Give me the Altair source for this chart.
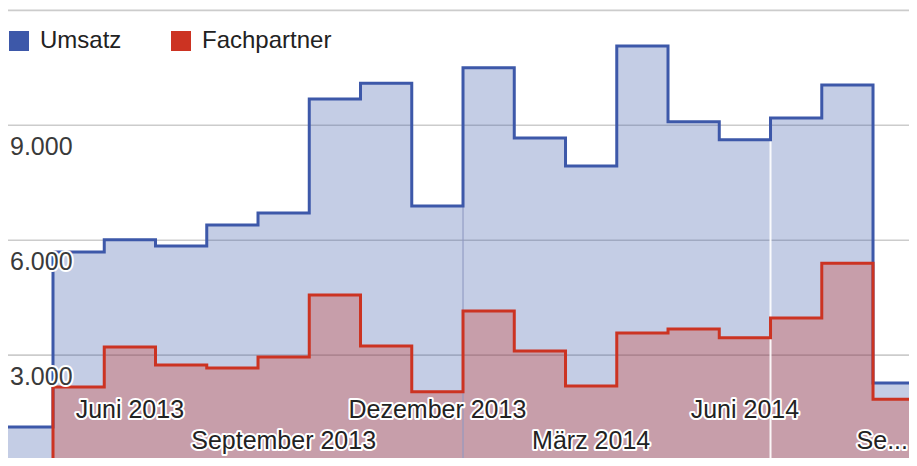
import altair as alt
import pandas as pd

FONT = "Liberation Sans, Arial, Helvetica, sans-serif"
BLUE = "#3D58A9"
RED = "#CC3322"

months = ["April 2013", "Mai 2013", "Juni 2013", "Juli 2013", "August 2013",
          "September 2013", "Oktober 2013", "November 2013", "Dezember 2013",
          "Januar 2014", "Februar 2014", "März 2014", "April 2014", "Mai 2014",
          "Juni 2014", "Juli 2014", "August 2014", "September 2014"]
umsatz = [1120, 5690, 6010, 5850, 6400, 6710, 9690, 10100, 6890, 10500,
          8670, 7940, 11070, 9090, 8620, 9190, 10050, 2270]
fachpartner = [260, 2170, 3210, 2740, 2660, 2950, 4570, 3240, 2040, 4150,
               3110, 2190, 3580, 3680, 3450, 3970, 5400, 1850]
series_names = ["Umsatz", "Fachpartner"]

grid_values = [3000, 6000, 9000, 12000]
y_label_values = [9000, 6000, 3000]
y_label_texts = ["9.000", "6.000", "3.000"]

x_label_months = [2, 5, 8, 11, 14, 17]
x_label_texts = ["Juni 2013", "September 2013", "Dezember 2013", "März 2014", "Juni 2014", "Se..."]
x_label_rows = [0, 1, 0, 1, 0, 1]

# faint vertical artefact lines visible in the screenshot
marker_idx = [9, 15]
marker_top = [6890, 8620]
marker_color = ["#8E98C2", "#FFFFFF"]

rows = []
for name, vals in (("Umsatz", umsatz), ("Fachpartner", fachpartner)):
    for i, v in enumerate(vals):
        rows.append({"series": name, "idx": i, "month": months[i], "value": v})
    # closing point so the last step keeps its full width
    rows.append({"series": name, "idx": len(vals), "month": "", "value": vals[-1]})
df = pd.DataFrame(rows)

grid_df = pd.DataFrame({"value": grid_values})
ylab_df = pd.DataFrame({"value": y_label_values, "label": y_label_texts})
xlab_df = pd.DataFrame({"pos": [m + 0.5 for m in x_label_months],
                        "label": x_label_texts, "row": x_label_rows,
                        "n": list(range(len(x_label_texts)))})
mark_df = pd.DataFrame({"idx": marker_idx, "top": marker_top, "color": marker_color,
                        "bottom": [0, 0]})

W, H = 901, 450
xs = alt.Scale(domain=[0.122, 17.702], nice=False, zero=False)
ys = alt.Scale(domain=[313, 12063], nice=False, zero=False)
color_scale = alt.Scale(domain=series_names, range=[BLUE, RED])
legend = alt.Legend(title=None, orient="none", legendX=-1, legendY=21,
                    direction="horizontal", symbolType="square", symbolSize=400,
                    symbolStrokeWidth=0, symbolOpacity=1, labelFontSize=24,
                    labelFont=FONT, labelColor="#222222", labelOffset=9,
                    columnPadding=47, padding=0)

X = alt.X("idx:Q", scale=xs, axis=None)
Y = alt.Y("value:Q", scale=ys, axis=None)

base = alt.Chart(df)

grid = alt.Chart(grid_df).mark_rule(color="#CCCCCC", strokeWidth=1.6).encode(
    y=alt.Y("value:Q", scale=ys, axis=None))

areas = [
    base.transform_filter(alt.datum.series == s).mark_area(
        interpolate="step-after", fillOpacity=0.3, clip=True).encode(
        x=X, y=Y, color=alt.Color("series:N", scale=color_scale, legend=legend))
    for s in series_names
]

markers = [
    alt.Chart(mark_df).transform_filter(alt.datum.idx == m).mark_rule(
        strokeWidth=2 if c == "#FFFFFF" else 1.2, color=c, opacity=0.9).encode(
        x=alt.X("idx:Q", scale=xs, axis=None),
        y=alt.Y("top:Q", scale=ys, axis=None), y2="bottom:Q")
    for m, c in zip(marker_idx, marker_color)
]

lines = [
    base.transform_filter(alt.datum.series == s).mark_line(
        interpolate="step-after", strokeWidth=3, clip=True, color=c).encode(x=X, y=Y)
    for s, c in zip(series_names, [BLUE, RED])
]

ylab_common = dict(align="left", baseline="alphabetic", dy=30, fontSize=25, font=FONT)
ylab_halo = alt.Chart(ylab_df).mark_text(
    stroke="white", strokeWidth=4, strokeJoin="round", fill="white", **ylab_common).encode(
    x=alt.value(2), y=alt.Y("value:Q", scale=ys, axis=None), text="label:N")
ylab = alt.Chart(ylab_df).mark_text(color="#3A3A3A", **ylab_common).encode(
    x=alt.value(2), y=alt.Y("value:Q", scale=ys, axis=None), text="label:N")

last = len(x_label_texts) - 1
xlab_layers = []
for r, ypix in ((0, 410), (1, 441)):
    common = dict(align="center", baseline="alphabetic", fontSize=25, font=FONT)
    src = alt.Chart(xlab_df).transform_filter(
        (alt.datum.row == r) & (alt.datum.n != last))
    xlab_layers.append(src.mark_text(stroke="white", strokeWidth=4, strokeJoin="round",
                                     fill="white", **common).encode(
        x=alt.X("pos:Q", scale=xs, axis=None), y=alt.value(ypix), text="label:N"))
    xlab_layers.append(src.mark_text(color="#222222", **common).encode(
        x=alt.X("pos:Q", scale=xs, axis=None), y=alt.value(ypix), text="label:N"))

# truncated last label sits against the right edge of the plot
src_last = alt.Chart(xlab_df).transform_filter(alt.datum.n == last)
last_common = dict(align="right", baseline="alphabetic", fontSize=25, font=FONT)
xlab_layers.append(src_last.mark_text(stroke="white", strokeWidth=4, strokeJoin="round",
                                      fill="white", **last_common).encode(
    x=alt.value(W - 1), y=alt.value(441), text="label:N"))
xlab_layers.append(src_last.mark_text(color="#222222", **last_common).encode(
    x=alt.value(W - 1), y=alt.value(441), text="label:N"))

chart = alt.layer(
    grid, *areas, *markers, *lines, ylab_halo, ylab, *xlab_layers
).properties(
    width=W, height=H,
    autosize=alt.AutoSizeParams(type="none"),
    padding=0,
    background="white",
).configure_view(stroke=None)

chart.save("out.html", embed_options={"renderer": "svg", "actions": False})
